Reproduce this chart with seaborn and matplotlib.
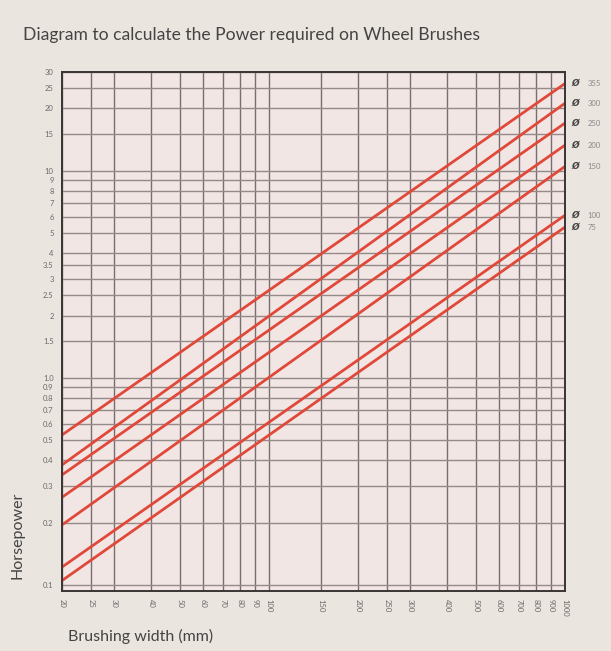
import numpy as np
import pandas as pd
import matplotlib
matplotlib.use('Agg')
import matplotlib.pyplot as plt
import seaborn as sns

# ---------------- Data ----------------
diameters = ["355", "300", "250", "200", "150", "100", "75"]
width_mm = [20, 1000]
hp_at_20 = [0.53, 0.38, 0.34, 0.265, 0.195, 0.122, 0.105]
hp_at_1000 = [26.4, 21.2, 17.0, 13.3, 10.5, 6.1, 5.35]

x_ticks = [20, 25, 30, 40, 50, 60, 70, 80, 90, 100, 150, 200, 250, 300,
           400, 500, 600, 700, 800, 900, 1000]
y_ticks = [0.1, 0.2, 0.3, 0.4, 0.5, 0.6, 0.7, 0.8, 0.9, 1.0, 1.5, 2, 2.5, 3,
           3.5, 4, 5, 6, 7, 8, 9, 10, 15, 20, 25, 30]
y_tick_labels = ["0.1", "0.2", "0.3", "0.4", "0.5", "0.6", "0.7", "0.8", "0.9",
                 "1.0", "1.5", "2", "2.5", "3", "3.5", "4", "5", "6", "7", "8",
                 "9", "10", "15", "20", "25", "30"]

rows = []
for d, a, b in zip(diameters, hp_at_20, hp_at_1000):
    rows.append({"width": width_mm[0], "hp": a, "dia": d})
    rows.append({"width": width_mm[1], "hp": b, "dia": d})
df = pd.DataFrame(rows)

# ---------------- Style ----------------
sns.set_style("white")
plt.rcParams['font.family'] = ['Lato', 'DejaVu Sans']

fig_bg = '#ebe5e0'
ax_bg = '#f2e6e4'
red = '#e0493a'

fig = plt.figure(figsize=(6.11, 6.51), dpi=100, facecolor=fig_bg)
ax = fig.add_axes([62 / 611, 1 - 591 / 651, 503 / 611, 519 / 651])
ax.set_facecolor(ax_bg)

ax.set_xscale('log')
ax.set_yscale('log')

# grid lines at each tick
for xv in x_ticks:
    ax.axvline(xv, color='#786e6e', lw=1.0, zorder=1)
for yv in y_ticks:
    ax.axhline(yv, color='#958a8a', lw=1.0, zorder=1)

sns.lineplot(data=df, x="width", y="hp", hue="dia", hue_order=diameters,
             palette=[red] * len(diameters), linewidth=2.0, legend=False,
             ax=ax, zorder=3)

ax.set_xlim(20, 1000)
ax.set_ylim(0.0935, 30)

ax.set_xticks(x_ticks)
ax.set_xticklabels([str(v) for v in x_ticks], rotation=-90, fontsize=5.5,
                   color='#6a6a6a', va='top', ha='center')
ax.set_yticks(y_ticks)
ax.set_yticklabels(y_tick_labels, fontsize=5.5, color='#6a6a6a')
ax.minorticks_off()
ax.tick_params(axis='both', length=0, pad=6)
ax.set_xlabel("")
ax.set_ylabel("")

for s in ax.spines.values():
    s.set_color('#3a3535')
    s.set_linewidth(1.4)
    s.set_zorder(4)

# diameter labels on the right
for d, v in zip(diameters, hp_at_1000):
    ax.text(1.012, v, "Ø", transform=ax.get_yaxis_transform(),
            fontsize=6.5, color='#444444', fontweight='bold', style='italic',
            va='center', ha='left', family=['DejaVu Sans'])
    ax.text(1.045, v, d, transform=ax.get_yaxis_transform(),
            fontsize=5.5, color='#888888', va='center', ha='left')

# titles / axis labels
fig.text(23 / 611, 1 - 35 / 651,
         "Diagram to calculate the Power required on Wheel Brushes",
         fontsize=12.6, color='#444444', fontweight='normal', va='center', ha='left')
fig.text(68 / 611, 1 - 636 / 651, "Brushing width (mm)",
         fontsize=11.5, color='#444444', fontweight='normal', va='center', ha='left')
fig.text(18 / 611, 1 - 535 / 651, "Horsepower", rotation=90,
         fontsize=11.5, color='#444444', fontweight='normal', va='center', ha='center')

fig.savefig("out.png", dpi=100, facecolor=fig_bg)
